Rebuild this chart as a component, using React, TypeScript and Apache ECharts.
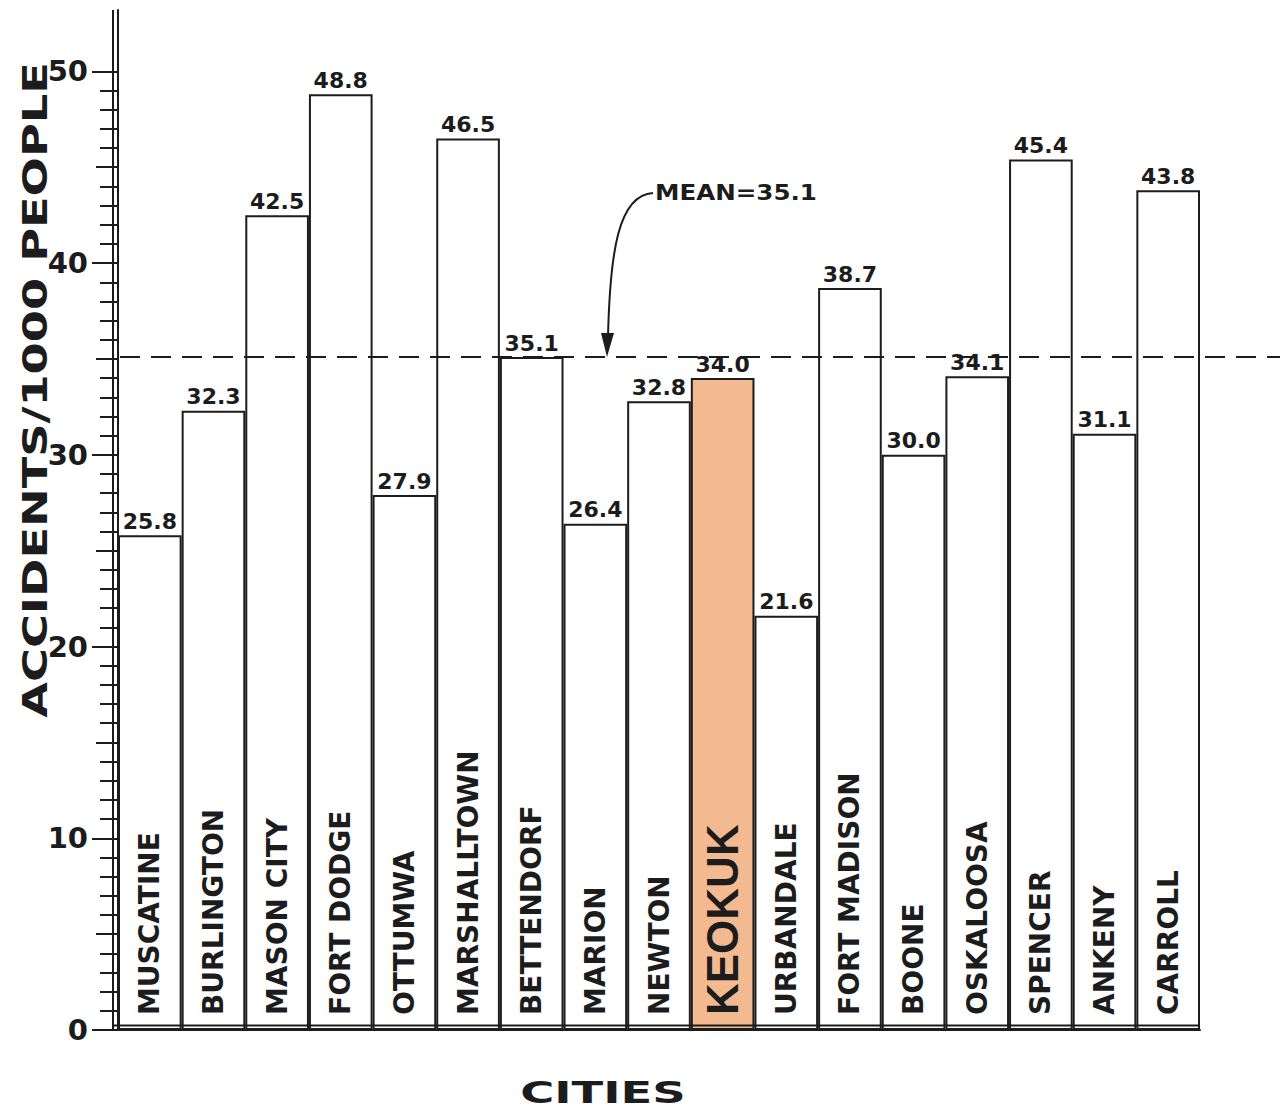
import React, { useEffect, useRef } from "react";
import * as echarts from "echarts";

// Accident rates per 1000 people for Iowa cities
const categories = [
  "MUSCATINE", "BURLINGTON", "MASON CITY", "FORT DODGE", "OTTUMWA",
  "MARSHALLTOWN", "BETTENDORF", "MARION", "NEWTON", "KEOKUK",
  "URBANDALE", "FORT MADISON", "BOONE", "OSKALOOSA", "SPENCER",
  "ANKENY", "CARROLL",
];
const accidentRates = [
  25.8, 32.3, 42.5, 48.8, 27.9, 46.5, 35.1, 26.4, 32.8, 34.0,
  21.6, 38.7, 30.0, 34.1, 45.4, 31.1, 43.8,
];
const highlightCity = "KEOKUK";
const MEAN = 35.1;

// Y axis scale and tick marks
const Y_MAX = 53.2;
const majorTicks = [0, 10, 20, 30, 40, 50];
const halfTicks = [5, 15, 25, 35, 45];
const minorTicks = [
  1, 2, 3, 4, 6, 7, 8, 9, 11, 12, 13, 14, 16, 17, 18, 19,
  21, 22, 23, 24, 26, 27, 28, 29, 31, 32, 33, 34, 36, 37, 38, 39,
  41, 42, 43, 44, 46, 47, 48, 49,
];

const INK = "#1c1c1c";
const HIGHLIGHT = "#f3b990";
const BOLD = "DejaVu Sans";

export default function App() {
  const ref = useRef<HTMLDivElement>(null);

  useEffect(() => {
    if (!ref.current) return;
    const chart = echarts.init(ref.current, undefined, { renderer: "svg" });

    const tickAxis = (values: number[], length: number) => ({
      type: "value",
      position: "left",
      min: 0,
      max: Y_MAX,
      z: 5,
      splitLine: { show: false },
      axisLine: { show: false },
      axisLabel: { show: false },
      axisTick: {
        show: true,
        length,
        customValues: values,
        lineStyle: { color: INK, width: 2 },
      },
    });

    chart.setOption({
      animation: false,
      backgroundColor: "#ffffff",
      grid: { left: 118, right: 87, top: 10, bottom: 81 },
      xAxis: {
        type: "category",
        data: categories,
        z: 5,
        axisTick: { show: false },
        axisLine: { show: true, lineStyle: { color: INK, width: 2 } },
        axisLabel: {
          inside: true,
          rotate: 90,
          interval: 0,
          margin: 15,
          color: INK,
          fontFamily: BOLD,
          fontWeight: "bold",
          fontSize: 28,
          formatter: (name: string) =>
            name === highlightCity ? `{k|${name}}` : name,
          rich: {
            k: {
              fontFamily: "Liberation Sans",
              fontWeight: "bold",
              fontSize: 44,
              color: INK,
            },
          },
        },
      },
      yAxis: [
        {
          type: "value",
          position: "left",
          min: 0,
          max: Y_MAX,
          z: 5,
          splitLine: { show: false },
          axisLine: { show: true, lineStyle: { color: INK, width: 2 } },
          axisTick: {
            show: true,
            length: 26,
            customValues: majorTicks,
            lineStyle: { color: INK, width: 2 },
          },
          axisLabel: {
            customValues: majorTicks,
            margin: 30,
            color: INK,
            fontFamily: BOLD,
            fontWeight: "bold",
            fontSize: 29,
          },
        },
        tickAxis(halfTicks, 22),
        tickAxis(minorTicks, 18),
      ],
      series: [
        {
          type: "bar",
          yAxisIndex: 0,
          barCategoryGap: "0%",
          z: 2,
          data: accidentRates.map((v, i) => ({
            value: v,
            itemStyle: {
              color: categories[i] === highlightCity ? HIGHLIGHT : "#ffffff",
              borderColor: INK,
              borderWidth: 2,
            },
          })),
          label: {
            show: true,
            position: "top",
            distance: 3,
            color: INK,
            fontFamily: BOLD,
            fontWeight: "bold",
            fontSize: 22,
            formatter: (p: any) => Number(p.value).toFixed(1),
          },
        },
      ],
    });

    // Pixel positions from the axes' own scales
    const x0 = chart.convertToPixel({ xAxisIndex: 0 }, categories[0]) as number;
    const xLast = chart.convertToPixel(
      { xAxisIndex: 0 },
      categories[categories.length - 1]
    ) as number;
    const halfBand = (xLast - x0) / (categories.length - 1) / 2;
    const left = x0 - halfBand;
    const right = xLast + halfBand;
    const yZero = chart.convertToPixel({ yAxisIndex: 0 }, 0) as number;
    const yTop = chart.convertToPixel({ yAxisIndex: 0 }, Y_MAX) as number;
    const yMean = chart.convertToPixel({ yAxisIndex: 0 }, MEAN) as number;

    const arrowX = 607;
    const textX = 655;
    const textY = 193;

    chart.setOption({
      graphic: [
        // doubled axis rules
        {
          type: "line",
          shape: { x1: left - 5, y1: yTop, x2: left - 5, y2: yZero },
          style: { stroke: INK, lineWidth: 2 },
          z: 10,
        },
        {
          type: "line",
          shape: { x1: left - 5, y1: yZero - 4.5, x2: right, y2: yZero - 4.5 },
          style: { stroke: INK, lineWidth: 2 },
          z: 10,
        },
        // mean line
        {
          type: "line",
          shape: { x1: left + 2, y1: yMean, x2: 1280, y2: yMean },
          style: { stroke: INK, lineWidth: 2, lineDash: [20, 11] },
          z: 10,
        },
        // mean annotation
        {
          type: "text",
          x: textX,
          y: textY,
          scaleX: 1.17,
          style: {
            text: `MEAN=${MEAN}`,
            font: `bold 21px '${BOLD}'`,
            fill: INK,
            textAlign: "left",
            textVerticalAlign: "middle",
          },
          z: 10,
        },
        {
          type: "bezierCurve",
          shape: {
            x1: textX - 2,
            y1: textY,
            cpx1: 618,
            cpy1: textY + 2,
            cpx2: arrowX + 3,
            cpy2: textY + 60,
            x2: arrowX + 1,
            y2: yMean - 20,
          },
          style: { stroke: INK, lineWidth: 2, fill: null },
          z: 10,
        },
        {
          type: "polygon",
          shape: {
            points: [
              [arrowX - 6, yMean - 24],
              [arrowX + 7, yMean - 24],
              [arrowX, yMean],
            ],
          },
          style: { fill: INK },
          z: 10,
        },
        // axis titles
        {
          type: "text",
          x: 35,
          y: 390,
          rotation: Math.PI / 2,
          scaleX: 1.36,
          style: {
            text: "ACCIDENTS/1000 PEOPLE",
            font: `bold 34px '${BOLD}'`,
            fill: INK,
            textAlign: "center",
            textVerticalAlign: "middle",
          },
          z: 10,
        },
        {
          type: "text",
          x: 603,
          y: 1092,
          scaleX: 1.5,
          style: {
            text: "CITIES",
            font: `bold 31px '${BOLD}'`,
            fill: INK,
            textAlign: "center",
            textVerticalAlign: "middle",
          },
          z: 10,
        },
      ],
    });

    return () => chart.dispose();
  }, []);

  return (
    <div
      ref={ref}
      style={{ position: "fixed", left: 0, top: 0, width: 1287, height: 1111 }}
    />
  );
}
